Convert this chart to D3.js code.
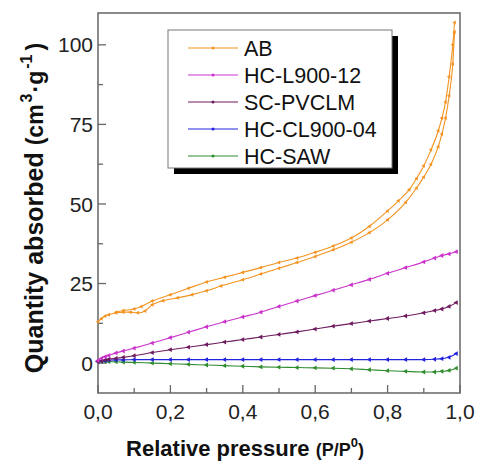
<!DOCTYPE html>
<html>
<head>
<meta charset="utf-8">
<script src="https://cdn.jsdelivr.net/npm/d3@7"></script>
<style>
  body { margin: 0; background: #fff; }
  svg { display: block; font-family: "Liberation Sans", Arial, sans-serif; }
</style>
</head>
<body>
<div id="chart"></div>
<script>
// AB isotherm: adsorption (lower) and desorption (upper) branches
const abAdsP = [0, 0.01, 0.02, 0.03, 0.05, 0.07, 0.09, 0.11, 0.13, 0.15, 0.18, 0.22, 0.26, 0.30, 0.34, 0.40, 0.45, 0.50, 0.55, 0.60, 0.65, 0.70, 0.75, 0.80, 0.85, 0.88, 0.90, 0.92, 0.94, 0.95, 0.96, 0.97, 0.98, 0.985];
const abAdsV = [13, 14, 14.8, 15.2, 15.8, 16, 16, 15.8, 16.4, 18.3, 19.6, 20.5, 21.5, 22.7, 24.2, 26.2, 28, 29.8, 31.6, 33.5, 35.6, 38, 41, 45, 50.5, 55, 58.5, 62.5, 68, 72, 77, 84, 94, 104];
const abDesP = [0.985, 0.98, 0.97, 0.96, 0.95, 0.94, 0.92, 0.90, 0.88, 0.86, 0.83, 0.80, 0.75, 0.70, 0.65, 0.60, 0.55, 0.50, 0.45, 0.40, 0.35, 0.30, 0.25, 0.20, 0.15, 0.12, 0.10, 0.07, 0.05];
const abDesV = [107, 100, 90, 82, 77, 73, 67, 62, 58, 54.5, 51, 47.8, 43, 39.3, 36.8, 34.8, 33, 31.6, 30, 28.5, 27, 25.5, 23.5, 21.5, 19.5, 17.8, 17, 16.5, 16];

// the other four isotherms
const commonP = [0, 0.01, 0.02, 0.03, 0.05, 0.07, 0.1, 0.15, 0.2, 0.25, 0.3, 0.35, 0.4, 0.45, 0.5, 0.55, 0.6, 0.65, 0.7, 0.75, 0.8, 0.85, 0.9, 0.93, 0.95, 0.97, 0.99];
const hcL900V = [0.8, 1.5, 2.0, 2.4, 3.2, 3.8, 4.7, 6.3, 8, 9.7, 11.4, 13, 14.5, 16, 17.8, 19.5, 21.2, 22.9, 24.6, 26.3, 28.2, 30, 31.8, 33, 33.8, 34.3, 35];
const scPvclmV = [0.5, 0.7, 1, 1.2, 1.5, 1.8, 2.3, 3.3, 4.2, 5, 5.8, 6.6, 7.4, 8.2, 9, 9.8, 10.7, 11.6, 12.4, 13.2, 14, 14.8, 15.8, 16.5, 17, 17.8, 19];
const hcCl900V = [0.5, 0.6, 0.8, 0.9, 1, 1, 1.1, 1.1, 1.1, 1.1, 1.1, 1.1, 1.1, 1.1, 1.1, 1.1, 1.1, 1.1, 1.1, 1.1, 1.1, 1.1, 1.1, 1.2, 1.4, 1.8, 3];
const hcSawV = [0.5, 0.5, 0.5, 0.45, 0.4, 0.3, 0.2, 0, -0.2, -0.4, -0.6, -0.8, -1, -1.2, -1.3, -1.4, -1.5, -1.6, -1.8, -2.1, -2.4, -2.6, -2.8, -2.8, -2.6, -2.3, -1.6];

const seriesNames = ["AB", "HC-L900-12", "SC-PVCLM", "HC-CL900-04", "HC-SAW"];
const seriesColors = ["#f39320", "#cc33cc", "#6e1a5e", "#2222e0", "#2e8b2e"];

const xTicks = [0, 0.2, 0.4, 0.6, 0.8, 1.0];
const yTicks = [0, 25, 50, 75, 100];

const width = 478;
const height = 462;
const margin = { top: 13, right: 18, bottom: 69, left: 98 };

const svg = d3.select("#chart")
  .append("svg")
  .attr("width", width)
  .attr("height", height);

const x = d3.scaleLinear()
  .domain([0, 1])
  .range([margin.left, width - margin.right]);

const y = d3.scaleLinear()
  .domain([-9.4, 110])
  .range([height - margin.bottom, margin.top]);

const zip = (ps, vs) => ps.map((p, i) => ({ p, v: vs[i] }));

const series = [
  { name: "AB", parts: [zip(abAdsP, abAdsV), zip(abDesP, abDesV)], size: 7 },
  { name: "HC-L900-12", parts: [zip(commonP, hcL900V)], size: 10 },
  { name: "SC-PVCLM", parts: [zip(commonP, scPvclmV)], size: 10 },
  { name: "HC-CL900-04", parts: [zip(commonP, hcCl900V)], size: 10 },
  { name: "HC-SAW", parts: [zip(commonP, hcSawV)], size: 10 },
];

const color = d3.scaleOrdinal().domain(seriesNames).range(seriesColors);

// frame
svg.append("rect")
  .attr("x", x(0))
  .attr("y", y(110))
  .attr("width", x(1) - x(0))
  .attr("height", y(-9.4) - y(110))
  .attr("fill", "none")
  .attr("stroke", "#666")
  .attr("stroke-width", 1.5);

// y ticks (inside)
const plot = svg.append("g");
d3.range(0, 101, 12.5).forEach((t) => {
  const major = t % 25 === 0;
  plot.append("line")
    .attr("x1", x(0)).attr("x2", x(0) + (major ? 8 : 5))
    .attr("y1", y(t)).attr("y2", y(t))
    .attr("stroke", "#666").attr("stroke-width", 1.3);
});
yTicks.forEach((t) => {
  svg.append("text")
    .attr("x", x(0) - 5)
    .attr("y", y(t))
    .attr("dy", "0.36em")
    .attr("text-anchor", "end")
    .attr("font-size", 21)
    .attr("fill", "#222")
    .text(t);
});

// x ticks (inside)
d3.range(0, 1.001, 0.1).forEach((t, i) => {
  const major = i % 2 === 0;
  plot.append("line")
    .attr("x1", x(t)).attr("x2", x(t))
    .attr("y1", y(-9.4)).attr("y2", y(-9.4) - (major ? 8 : 5))
    .attr("stroke", "#666").attr("stroke-width", 1.3);
});
xTicks.forEach((t) => {
  svg.append("text")
    .attr("x", x(t))
    .attr("y", y(-9.4) + 26)
    .attr("text-anchor", "middle")
    .attr("font-size", 21)
    .attr("fill", "#222")
    .text(d3.format(".1f")(t).replace(".", ","));
});

// axis titles
const xTitle = svg.append("text")
  .attr("x", 245)
  .attr("y", 456)
  .attr("text-anchor", "middle")
  .attr("font-size", 22)
  .attr("font-weight", "bold")
  .attr("fill", "#111");
xTitle.append("tspan").text("Relative pressure ");
xTitle.append("tspan").attr("font-size", 18).text("(P/P");
xTitle.append("tspan").attr("font-size", 13).attr("dy", -9).text("0");
xTitle.append("tspan").attr("font-size", 18).attr("dy", 9).text(")");

const yTitle = svg.append("text")
  .attr("transform", "translate(43,208) rotate(-90)")
  .attr("text-anchor", "middle")
  .attr("font-size", 25)
  .attr("font-weight", "bold")
  .attr("fill", "#111");
yTitle.append("tspan").text("Quantity absorbed ");
yTitle.append("tspan").attr("font-size", 23).text("(cm");
yTitle.append("tspan").attr("font-size", 16).attr("dx", 2).attr("dy", -11).text("3");
yTitle.append("tspan").attr("font-size", 23).attr("dx", 1).attr("dy", 11).text("·g");
yTitle.append("tspan").attr("font-size", 16).attr("dx", 2).attr("dy", -11).text("-1");
yTitle.append("tspan").attr("font-size", 23).attr("dx", 4).attr("dy", 11).text(")");

// curves
const line = d3.line()
  .curve(d3.curveMonotoneX)
  .x((d) => x(d.p))
  .y((d) => y(d.v));

const marker = d3.symbol().type(d3.symbolTriangle);

series.slice().reverse().forEach((s) => {
  const g = svg.append("g");
  s.parts.forEach((part) => {
    const sorted = part.slice().sort((a, b) => a.p - b.p);
    g.append("path")
      .datum(sorted)
      .attr("d", line)
      .attr("fill", "none")
      .attr("stroke", color(s.name))
      .attr("stroke-width", 1.1);
    g.selectAll(null)
      .data(part)
      .join("path")
      .attr("d", marker.size(s.size))
      .attr("transform", (d) => `translate(${x(d.p)},${y(d.v)}) rotate(-90)`)
      .attr("fill", color(s.name));
  });
});

// legend with drop shadow
const legend = svg.append("g");
legend.append("rect")
  .attr("x", 174).attr("y", 36)
  .attr("width", 224).attr("height", 138)
  .attr("fill", "#000");
legend.append("rect")
  .attr("x", 168).attr("y", 30)
  .attr("width", 224).attr("height", 138)
  .attr("fill", "#fff")
  .attr("stroke", "#777")
  .attr("stroke-width", 1);

seriesNames.forEach((name, i) => {
  const ly = 48 + i * 27;
  legend.append("line")
    .attr("x1", 188).attr("x2", 238)
    .attr("y1", ly).attr("y2", ly)
    .attr("stroke", color(name))
    .attr("stroke-width", 1);
  legend.append("circle")
    .attr("cx", 213).attr("cy", ly).attr("r", 1.5)
    .attr("fill", color(name));
  legend.append("text")
    .attr("x", 244).attr("y", ly)
    .attr("dy", "0.36em")
    .attr("font-size", 21.5)
    .attr("fill", "#111")
    .text(name);
});
</script>
</body>
</html>
